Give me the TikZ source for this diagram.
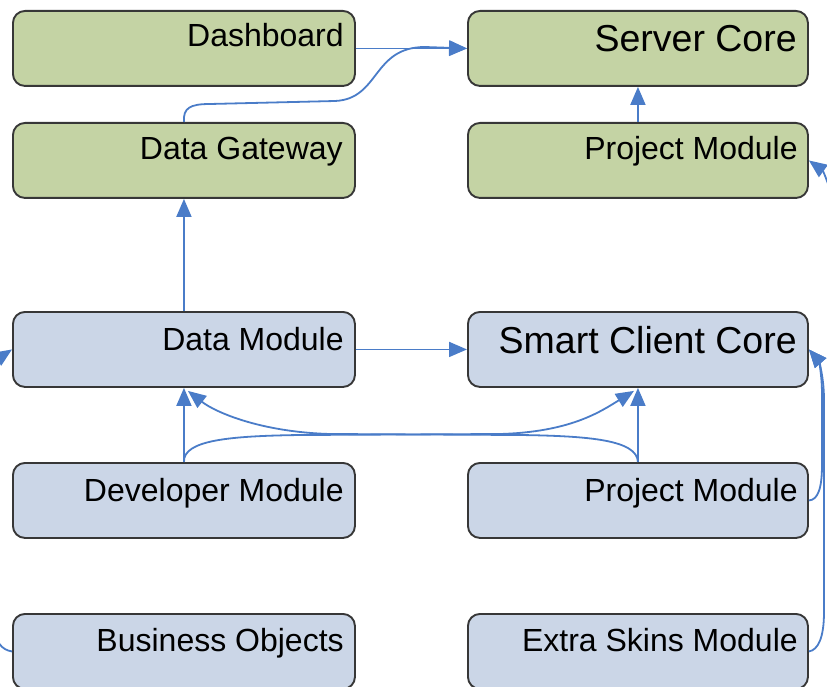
\documentclass[tikz,border=0pt]{standalone}
\usepackage{fontspec}
\setmainfont{Liberation Sans}
\usetikzlibrary{arrows.meta,calc}

\definecolor{greenfill}{RGB}{196,211,164}
\definecolor{bluefill}{RGB}{203,214,231}
\definecolor{boxedge}{RGB}{55,55,55}
\definecolor{linkblue}{RGB}{74,124,200}

\tikzset{
  box/.style={draw=boxedge, line width=1.9pt, rounded corners=12pt,
    minimum height=75pt, anchor=north west, inner sep=0pt},
  gbox/.style={box, fill=greenfill},
  bbox/.style={box, fill=bluefill},
  wideL/.style={minimum width=342pt},
  wideR/.style={minimum width=340pt},
  lbl/.style={anchor=base east, inner sep=0pt, font=\fontsize{32}{36}\selectfont},
  corelbl/.style={anchor=base east, inner sep=0pt, font=\fontsize{37.5}{42}\selectfont},
  link/.style={draw=linkblue, line width=1.8pt},
  arr/.style={link, -{Triangle[length=18pt,width=15pt]}},
}

\begin{document}
\begin{tikzpicture}[x=1pt, y=-1pt]
\useasboundingbox (0,0) rectangle (827,687);
\clip (0,0) rectangle (827,687);

% server side (green)
\node[gbox, wideL] (dash) at (12,10) {};
\node[gbox, wideR] (srv)  at (467,10) {};
\node[gbox, wideL] (gw)   at (12,122) {};
\node[gbox, wideR] (pmS)  at (467,122) {};

% client side (blue)
\node[bbox, wideL] (dm)   at (12,311) {};
\node[bbox, wideR] (scc)  at (467,311) {};
\node[bbox, wideL] (dev)  at (12,462) {};
\node[bbox, wideR] (pmC)  at (467,462) {};
\node[bbox, wideL] (bo)   at (12,613) {};
\node[bbox, wideR] (es)   at (467,613) {};

% labels, right aligned near the top edge
\node[lbl]     (dashT) at ($(dash.north east)+(-12,37)$) {Dashboard};
\node[corelbl] (srvT)  at ($(srv.north east)+(-12,42)$)  {Server Core};
\node[lbl]     (gwT)   at ($(gw.north east)+(-13,38)$)   {Data Gateway};
\node[lbl]     (pmST)  at ($(pmS.north east)+(-11,38)$)  {Project Module};
\node[lbl]     (dmT)   at ($(dm.north east)+(-12,39)$)   {Data Module};
\node[corelbl] (sccT)  at ($(scc.north east)+(-12,42)$)  {Smart Client Core};
\node[lbl]     (devT)  at ($(dev.north east)+(-12,39)$)  {Developer Module};
\node[lbl]     (pmCT)  at ($(pmC.north east)+(-11,39)$)  {Project Module};
\node[lbl]     (boT)   at ($(bo.north east)+(-12,38)$)   {Business Objects};
\node[lbl]     (esT)   at ($(es.north east)+(-11,38)$)   {Extra Skins Module};

% links that run outside the visible area
\coordinate (rightIn) at (845,260);

% straight links
\draw[arr] (dash.east) -- (srv.west);
\draw[arr] (pmS.north) -- (srv.south);
\draw[arr] (dm.north) -- (gw.south);
\draw[arr] (dm.east) -- (scc.west);
\draw[arr] (dev.north) -- (dm.south);
\draw[arr] (pmC.north) -- (scc.south);

% curved links
\draw[arr] (gw.north) .. controls (183,108) and (190,104) .. (210,104)
  -- (335,101) .. controls (380,99) and (372,47) .. (425,47) -- (srv.west);
\draw[arr] (dev.north) .. controls (183,440) and (230,436) .. (300,435)
  -- (500,434) .. controls (570,432) and (600,412) .. ($(scc.south)+(-4,3)$);
\draw[arr] (pmC.north) .. controls (637,440) and (590,436) .. (520,435)
  -- (330,434) .. controls (260,432) and (215,412) .. ($(dm.south)+(4,3)$);
\draw[arr] (pmC.east) .. controls (818,500) and (822,488) .. (822,465)
  -- (822,395) .. controls (822,372) and (818,360) .. (scc.east);
\draw[arr] (es.east) .. controls (818,650) and (824,638) .. (824,612)
  -- (824,400) .. controls (824,375) and (818,360) .. (scc.east);
\draw[arr] (rightIn) .. controls (838,200) and (822,170) .. (pmS.east);
\draw[arr] (bo.west) .. controls (2,650) and (-6,642) .. (-6,622)
  -- (-6,392) .. controls (-6,374) and (2,356) .. (dm.west);
\end{tikzpicture}
\end{document}
